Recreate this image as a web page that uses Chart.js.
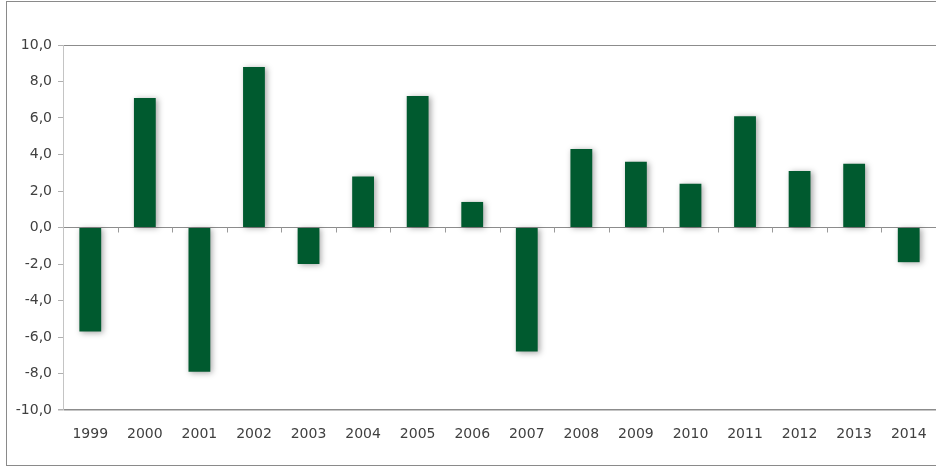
<!DOCTYPE html>
<html>
<head>
<meta charset="utf-8">
<script src="https://cdn.jsdelivr.net/npm/chart.js@4"></script>
<style>
  html, body { margin: 0; padding: 0; background: #fff; overflow: hidden; }
  #frame { position: absolute; left: 6px; top: 1px; width: 960px; height: 465px; border: 1px solid #8a8a8a; box-sizing: border-box; }
  #wrap { position: absolute; left: 0; top: 0; width: 936px; height: 470px; }
</style>
</head>
<body>
<div id="frame"></div>
<div id="wrap"><canvas id="barCanvas"></canvas></div>
<script>
const labels = ['1999', '2000', '2001', '2002', '2003', '2004', '2005', '2006',
                '2007', '2008', '2009', '2010', '2011', '2012', '2013', '2014'];
const valeurs = [-5.7, 7.1, -7.9, 8.8, -2.0, 2.8, 7.2, 1.4,
                 -6.8, 4.3, 3.6, 2.4, 6.1, 3.1, 3.5, -1.9];
const yTicks = [-10, -8, -6, -4, -2, 0, 2, 4, 6, 8, 10];

// ombre portée des barres
const shadowPlugin = {
    id: 'barShadow',
    beforeDatasetsDraw(chart) {
        const c = chart.ctx;
        c.save();
        c.shadowColor = 'rgba(0,0,0,0.35)';
        c.shadowBlur = 6;
        c.shadowOffsetX = 2;
        c.shadowOffsetY = 1;
    },
    afterDatasetsDraw(chart) {
        chart.ctx.restore();
    }
};

// petits traits sous la ligne du zéro, entre les catégories
const zeroTicks = {
    id: 'zeroTicks',
    afterDatasetsDraw(chart) {
        const x = chart.scales.x, y = chart.scales.y;
        const y0 = y.getPixelForValue(0);
        const c = chart.ctx;
        c.save();
        c.strokeStyle = '#9a9a9a';
        c.lineWidth = 1;
        for (let i = 1; i < labels.length; i++) {
            const px = Math.round((x.getPixelForValue(i - 1) + x.getPixelForValue(i)) / 2) + 0.5;
            c.beginPath();
            c.moveTo(px, y0);
            c.lineTo(px, y0 + 5);
            c.stroke();
        }
        c.restore();
    }
};

const ctx = document.getElementById('barCanvas').getContext('2d');
new Chart(ctx, {
    type: 'bar',
    data: {
        labels: labels,
        datasets: [{
            data: valeurs,
            backgroundColor: '#005a2f',
            borderWidth: 0,
            categoryPercentage: 1,
            barPercentage: 0.4
        }]
    },
    options: {
        responsive: true,
        maintainAspectRatio: false,
        animation: false,
        layout: { padding: { top: 45, left: 0, right: -4, bottom: 0 } },
        plugins: {
            legend: { display: false },
            tooltip: { enabled: false }
        },
        scales: {
            x: {
                offset: true,
                grid: { display: false },
                border: { display: false },
                ticks: {
                    color: '#404040',
                    font: { family: 'DejaVu Sans', size: 14 },
                    padding: 8,
                    maxRotation: 0
                },
                afterFit(scale) { scale.height = 60; }
            },
            y: {
                min: -10,
                max: 10,
                afterBuildTicks(scale) { scale.ticks = yTicks.map(v => ({ value: v })); },
                grid: {
                    color: c => (c.tick && (c.tick.value === 0 || c.tick.value === 10 || c.tick.value === -10)) ? '#8c8c8c' : 'rgba(0,0,0,0)',
                    tickColor: '#b0b0b0',
                    tickLength: 5,
                    lineWidth: c => (c.tick && c.tick.value === -10) ? 1.5 : 1
                },
                border: { display: true, color: '#c4c4c4' },
                ticks: {
                    color: '#404040',
                    font: { family: 'DejaVu Sans', size: 14 },
                    padding: 6,
                    callback: v => v.toFixed(1).replace('.', ',')
                },
                afterFit(scale) { scale.width = 63; }
            }
        }
    },
    plugins: [shadowPlugin, zeroTicks]
});
</script>
</body>
</html>
